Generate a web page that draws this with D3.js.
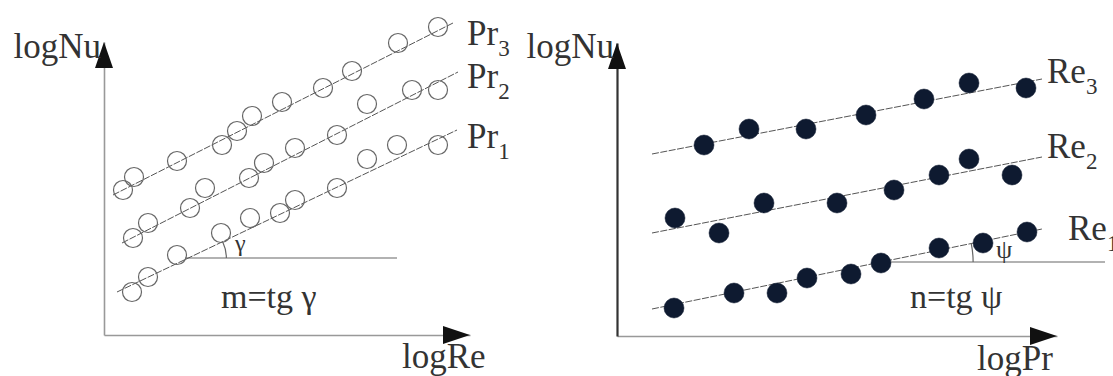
<!DOCTYPE html>
<html>
<head>
<meta charset="utf-8">
<script src="https://cdn.jsdelivr.net/npm/d3@7/dist/d3.min.js"></script>
<style>
  html, body { margin: 0; padding: 0; background: #fff; }
  svg { display: block; }
  text { font-family: "Liberation Serif", "DejaVu Serif", serif; fill: #333; }
</style>
</head>
<body>
<svg id="chart" width="1113" height="376"></svg>
<script>
// ---- Left panel: logNu vs logRe, one series per Prandtl number ----
const pr3X = [1.9, 3.0, 7.3, 11.8, 13.3, 14.8, 17.8, 21.9, 24.8, 29.4, 33.4];
const pr3Y = [14.5, 15.8, 17.4, 19.0, 20.4, 21.9, 23.3, 24.7, 26.4, 29.2, 30.8];
const pr2X = [2.9, 4.4, 8.6, 10.1, 14.5, 16.0, 19.1, 23.3, 26.3, 30.8, 33.4];
const pr2Y = [9.7, 11.2, 12.7, 14.7, 15.7, 17.2, 18.7, 20.0, 23.1, 24.5, 24.5];
const pr1X = [2.8, 4.4, 7.3, 11.7, 14.6, 17.6, 19.1, 23.3, 26.3, 29.3, 33.4];
const pr1Y = [4.3, 5.8, 8.0, 10.2, 11.7, 12.2, 13.5, 14.7, 17.6, 19.0, 19.0];
// fitted lines: [x0, y0, x1, y1]
const pr3Fit = [0.9, 14.0, 34.9, 31.2];
const pr2Fit = [1.8, 9.2, 35.4, 26.3];
const pr1Fit = [1.3, 4.3, 35.3, 20.5];
const leftRef = [8.1, 29.3, 7.7];          // x0, x1, y of horizontal reference line

// ---- Right panel: logNu vs logPr, one series per Reynolds number ----
const re3X = [8.7, 13.2, 18.9, 24.9, 30.7, 35.2, 40.9];
const re3Y = [19.1, 20.7, 20.7, 22.1, 23.7, 25.3, 24.8];
const re2X = [5.8, 10.2, 14.7, 22.0, 27.7, 32.2, 35.2, 39.5];
const re2Y = [11.8, 10.3, 13.3, 13.3, 14.6, 16.1, 17.7, 16.1];
const re1X = [5.7, 11.7, 16.0, 19.0, 23.4, 26.4, 32.2, 36.6, 41.0];
const re1Y = [2.8, 4.3, 4.3, 5.8, 6.2, 7.3, 8.8, 9.3, 10.4];
const re3Fit = [3.5, 18.2, 42.5, 25.7];
const re2Fit = [3.5, 10.3, 42.5, 17.9];
const re1Fit = [3.5, 2.7, 42.5, 10.7];
const rightRef = [27.1, 48.8, 7.4];

const svg = d3.select("#chart");

function drawPanel(cfg) {
  const x = d3.scaleLinear().domain(cfg.xDomain).range(cfg.xRange);
  const y = d3.scaleLinear().domain(cfg.yDomain).range(cfg.yRange);
  const g = svg.append("g");
  const x0 = x(0), y0 = y(0);
  const xTip = x(cfg.xDomain[1]), yTip = y(cfg.yDomain[1]);

  // axes (no ticks), with arrowheads at the far ends
  g.append("g").attr("transform", `translate(0,${y0})`)
    .call(d3.axisBottom(x).tickValues([]).tickSizeOuter(0))
    .select(".domain").attr("stroke", "#999").attr("stroke-width", 1.6);
  g.append("g").attr("transform", `translate(${x0},0)`)
    .call(d3.axisLeft(y).tickValues([]).tickSizeOuter(0))
    .select(".domain").attr("stroke", cfg.yAxisColor).attr("stroke-width", cfg.yAxisWidth);
  g.append("path")
    .attr("d", `M${xTip},${y0} L${xTip - 27},${y0 - 9} L${xTip - 27},${y0 + 9} Z`)
    .attr("fill", "#111");
  g.append("path")
    .attr("d", `M${x0},${yTip} L${x0 - 9},${yTip + 26} L${x0 + 9},${yTip + 26} Z`)
    .attr("fill", "#111");

  // horizontal reference line
  const ref = cfg.ref;
  g.append("line")
    .attr("x1", x(ref[0])).attr("x2", x(ref[1]))
    .attr("y1", y(ref[2])).attr("y2", y(ref[2]))
    .attr("stroke", "#999").attr("stroke-width", 1.4);

  // series: fitted line + markers + label
  cfg.series.forEach(s => {
    g.append("line")
      .attr("x1", x(s.fit[0])).attr("y1", y(s.fit[1]))
      .attr("x2", x(s.fit[2])).attr("y2", y(s.fit[3]))
      .attr("stroke", "#555").attr("stroke-width", 1)
      .attr("stroke-dasharray", "7,1.5");
    const pts = s.xs.map((v, i) => [v, s.ys[i]]);
    g.selectAll(null).data(pts).enter().append("circle")
      .attr("cx", d => x(d[0])).attr("cy", d => y(d[1]))
      .attr("r", cfg.r)
      .attr("fill", cfg.filled ? "#0e1a30" : "#fff")
      .attr("fill-opacity", cfg.filled ? 1 : 0)
      .attr("stroke", cfg.filled ? "#0e1a30" : "#666")
      .attr("stroke-width", cfg.filled ? 0.5 : 1.2);

    const t = g.append("text")
      .attr("x", s.lx).attr("y", s.ly)
      .attr("font-size", 35);
    t.append("tspan").text(s.name);
    t.append("tspan").attr("dy", 11).attr("font-size", 23).text(s.sub);
  });

  // angle between the lowest fitted line and the reference line
  const low = cfg.series[cfg.series.length - 1].fit;
  const slope = (low[3] - low[1]) / (low[2] - low[0]);
  const vx = low[0] + (ref[2] - low[1]) / slope;
  const ang = Math.atan(slope * (x(1) - x(0)) / (y(0) - y(1)));
  const cxp = x(vx), cyp = y(ref[2]);
  const rr = cfg.arcR;
  g.append("path")
    .attr("d", `M${cxp + rr},${cyp} A${rr},${rr} 0 0 0 ${cxp + rr * Math.cos(ang)},${cyp - rr * Math.sin(ang)}`)
    .attr("fill", "none").attr("stroke", "#666").attr("stroke-width", 1.2);
  g.append("text")
    .attr("x", cfg.angleX).attr("y", cfg.angleY)
    .attr("font-size", cfg.angleSize).text(cfg.angleSym);

  // formula and axis titles
  g.append("text").attr("x", cfg.formulaX).attr("y", 308)
    .attr("font-size", 34).text(cfg.formula);
  g.append("text").attr("x", x0 - 3).attr("y", 58)
    .attr("text-anchor", "end").attr("font-size", 35).text("logNu");
  g.append("text").attr("x", cfg.xTitleX).attr("y", cfg.xTitleY)
    .attr("font-size", 35).text(cfg.xTitle);
}

drawPanel({
  xDomain: [0, 36.6], xRange: [104, 470],
  yDomain: [0, 29.3], yRange: [335, 42],
  yAxisColor: "#999", yAxisWidth: 1.6,
  filled: false, r: 9.5,
  series: [
    { name: "Pr", sub: "3", xs: pr3X, ys: pr3Y, fit: pr3Fit, lx: 467, ly: 45 },
    { name: "Pr", sub: "2", xs: pr2X, ys: pr2Y, fit: pr2Fit, lx: 467, ly: 88 },
    { name: "Pr", sub: "1", xs: pr1X, ys: pr1Y, fit: pr1Fit, lx: 467, ly: 148 }
  ],
  ref: leftRef, arcR: 38, angleSym: "γ", angleX: 235, angleY: 251, angleSize: 24,
  formula: "m=tg γ", formulaX: 221,
  xTitle: "logRe", xTitleX: 402, xTitleY: 368
});

drawPanel({
  xDomain: [0, 44], xRange: [617, 1057],
  yDomain: [0, 29.3], yRange: [336, 43],
  yAxisColor: "#333", yAxisWidth: 2.2,
  filled: true, r: 10,
  series: [
    { name: "Re", sub: "3", xs: re3X, ys: re3Y, fit: re3Fit, lx: 1047, ly: 83 },
    { name: "Re", sub: "2", xs: re2X, ys: re2Y, fit: re2Fit, lx: 1047, ly: 158 },
    { name: "Re", sub: "1", xs: re1X, ys: re1Y, fit: re1Fit, lx: 1068, ly: 240 }
  ],
  ref: rightRef, arcR: 92, angleSym: "ψ", angleX: 996, angleY: 258, angleSize: 26,
  formula: "n=tg ψ", formulaX: 910,
  xTitle: "logPr", xTitleX: 977, xTitleY: 370
});
</script>
</body>
</html>
